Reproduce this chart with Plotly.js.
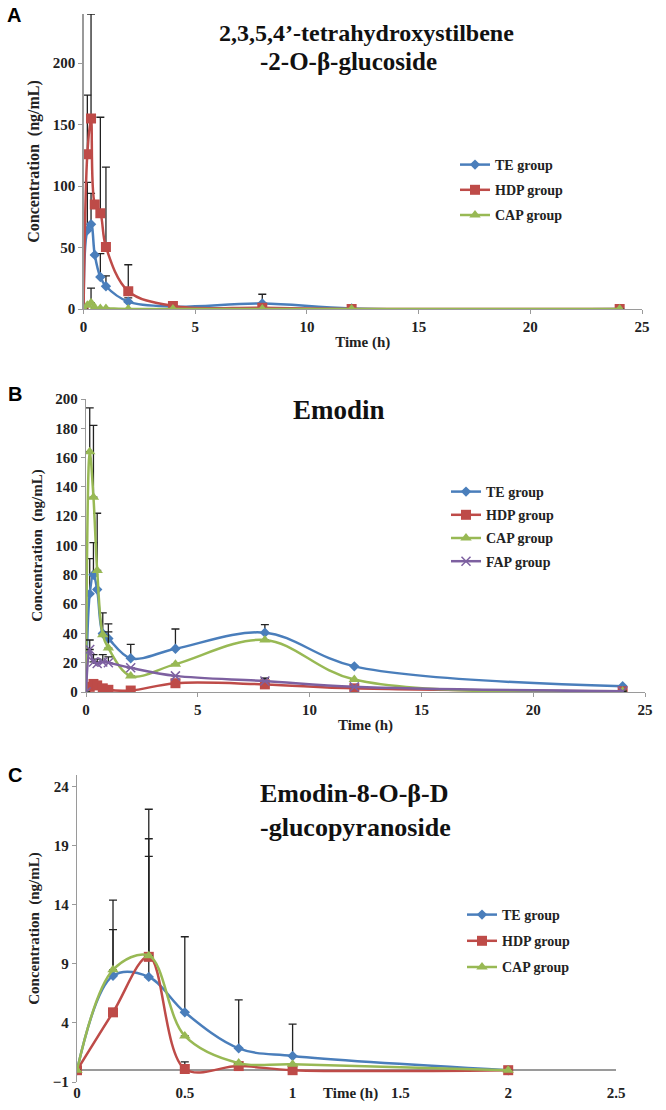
<!DOCTYPE html>
<html>
<head>
<meta charset="utf-8">
<script src="https://cdn.plot.ly/plotly-3.0.1.min.js"></script>
<style>html,body{margin:0;padding:0;background:#fff;}#chart{width:666px;height:1110px;}</style>
</head>
<body>
<div id="chart"></div>
<script>
// ---------- data ----------
var timeAB = [0, 0.167, 0.333, 0.5, 0.75, 1, 2, 4, 8, 12, 24];
var timeC  = [0, 0.167, 0.333, 0.5, 0.75, 1, 2];
var groupNames = ["TE group", "HDP group", "CAP group", "FAP group"];

// Panel A: 2,3,5,4'-tetrahydroxystilbene-2-O-β-glucoside
var A_TE      = [0, 64, 69, 44, 26, 18.5, 6, 2, 4.5, 0.5, 0];
var A_TE_err  = [0, 39, 25, 0, 19, 8.5, 3, 1, 7.5, 0, 0];
var A_HDP     = [0, 126, 155, 85, 78, 50.5, 14.5, 2.5, 1, 0, 0];
var A_HDP_err = [0, 48, 85, 0, 78, 65, 21.5, 0, 0, 0, 0];
var A_CAP     = [0, 3, 5, 1, 0.5, 0.5, 0, 0, 0, 0, 0];
var A_CAP_err = [0, 0, 12, 0, 0, 0, 0, 0, 0, 0, 0];

// Panel B: Emodin
var B_TE      = [0, 67, 80, 70, 40, 36.5, 23, 29.5, 40.5, 17.5, 4];
var B_TE_err  = [0, 24, 22, 0, 14, 10, 9.5, 13.5, 5.5, 0, 0];
var B_HDP     = [0, 3.5, 5.5, 4.5, 2.5, 1.5, 1, 6, 5.2, 2.5, 0.5];
var B_HDP_err = [0, 0, 0, 0, 0, 0, 0, 0, 4, 0, 0];
var B_CAP     = [0, 164, 133, 83, 39, 30, 11, 19, 35.5, 8.5, 0.5];
var B_CAP_err = [0, 30, 49, 39, 0, 11, 0, 0, 0, 0, 0];
var B_FAP     = [0, 29, 20.5, 19.5, 20.5, 20, 16.5, 11, 7.5, 3.5, 0.5];
var B_FAP_err = [0, 6.5, 5, 3, 5, 4, 0, 0, 2, 0, 0];

// Panel C: Emodin-8-O-β-D-glucopyranoside
var C_TE      = [0, 8.0, 7.9, 4.9, 1.85, 1.2, 0];
var C_TE_err  = [0, 6.4, 10.2, 6.4, 4.1, 2.7, 0];
var C_HDP     = [0, 4.9, 9.6, 0.1, 0.35, 0, 0];
var C_HDP_err = [0, 0, 12.5, 0.6, 0, 0, 0];
var C_CAP     = [0, 8.5, 9.7, 2.9, 0.6, 0.5, 0];
var C_CAP_err = [0, 3.4, 9.9, 0, 0, 0, 0];

// ---------- styles ----------
var colors  = ["#4A7EBB", "#BE4B48", "#98B954", "#7D60A0"];
var symbols = ["diamond", "square", "triangle-up", "x-thin-open"];
var msizes  = [8, 10, 10, 9];
var serif = "Liberation Serif, Times New Roman, serif";

function trace(x, y, err, gi, xa, ya, leg) {
  var zeros = err.map(function(){return 0;});
  return {
    x: x, y: y, type: "scatter", mode: "lines+markers",
    name: groupNames[gi], xaxis: xa, yaxis: ya, legend: leg,
    legendgroup: leg + gi,
    line: {color: colors[gi], width: 2.5, shape: "spline", smoothing: 1},
    marker: {color: colors[gi], symbol: symbols[gi], size: msizes[gi],
             line: {color: colors[gi], width: gi === 3 ? 1.5 : 0}},
    error_y: {type: "data", symmetric: false, array: err, arrayminus: zeros,
              color: "#222", thickness: 1.3, width: 4, visible: true}
  };
}

var data = [
  trace(timeAB, A_TE,  A_TE_err,  0, "x",  "y",  "legend"),
  trace(timeAB, A_HDP, A_HDP_err, 1, "x",  "y",  "legend"),
  trace(timeAB, A_CAP, A_CAP_err, 2, "x",  "y",  "legend"),
  trace(timeAB, B_TE,  B_TE_err,  0, "x2", "y2", "legend2"),
  trace(timeAB, B_HDP, B_HDP_err, 1, "x2", "y2", "legend2"),
  trace(timeAB, B_CAP, B_CAP_err, 2, "x2", "y2", "legend2"),
  trace(timeAB, B_FAP, B_FAP_err, 3, "x2", "y2", "legend2"),
  trace(timeC,  C_TE,  C_TE_err,  0, "x3", "y3", "legend3"),
  trace(timeC,  C_HDP, C_HDP_err, 1, "x3", "y3", "legend3"),
  trace(timeC,  C_CAP, C_CAP_err, 2, "x3", "y3", "legend3")
];

var W = 666, H = 1110;
function px(x){ return x / W; }
function py(y){ return 1 - y / H; }

var tickFont = {family: serif, size: 15, weight: "bold", color: "#222"};
var titleFont = {family: serif, size: 15, weight: "bold", color: "#222"};
function axis(o) {
  var base = {showgrid: false, zeroline: false, showline: true, linecolor: "#9a9a9a",
              linewidth: 1.3, ticks: "outside", ticklen: 4, tickcolor: "#9a9a9a",
              tickfont: tickFont, fixedrange: true};
  for (var k in o) base[k] = o[k];
  return base;
}

var legendBase = function(x, y, gap) {
  return {x: x, y: y, xanchor: "left", yanchor: "top", bgcolor: "rgba(0,0,0,0)",
          font: {family: serif, size: 14, weight: "bold", color: "#222"},
          tracegroupgap: gap, itemwidth: 30};
};

var layout = {
  width: W, height: H, margin: {l: 0, r: 0, t: 0, b: 0},
  paper_bgcolor: "#fff", plot_bgcolor: "#fff",
  showlegend: true,
  // Panel A
  xaxis:  axis({domain: [px(83.6), px(642)], range: [0, 25], dtick: 5, anchor: "y",
                title: {text: "Time (h)", font: titleFont, standoff: 2}}),
  yaxis:  axis({domain: [py(309), py(14)], range: [0, 240], tickvals: [0, 50, 100, 150, 200], anchor: "x",
                title: {text: "Concentration  (ng/mL)", font: {family: serif, size: 16, weight: "bold", color: "#222"}, standoff: 9}}),
  // Panel B
  xaxis2: axis({domain: [px(86), px(645)], range: [0, 25], dtick: 5, anchor: "y2",
                title: {text: "Time (h)", font: titleFont, standoff: 2}}),
  yaxis2: axis({domain: [py(692), py(399)], range: [0, 200], dtick: 20, anchor: "x2",
                title: {text: "Concentration  (ng/mL)", font: titleFont, standoff: 9}}),
  // Panel C
  xaxis3: axis({domain: [px(77), px(616)], range: [0, 2.5], dtick: 0.5, anchor: "y3",
                showline: false, ticks: ""}),
  yaxis3: axis({domain: [py(1082), py(775)], range: [-1, 25], tick0: -1, dtick: 5, anchor: "x3",
                zeroline: true, zerolinecolor: "#9a9a9a", zerolinewidth: 1.5,
                title: {text: "Concentration  (ng/mL)", font: titleFont, standoff: 9}}),
  legend:  legendBase(px(455), py(149), 4),
  legend2: legendBase(px(446), py(476), 2),
  legend3: legendBase(px(462), py(899), 5),
  annotations: [
    {text: "A", x: px(5), y: py(15), xref: "paper", yref: "paper", xanchor: "left", yanchor: "middle", showarrow: false,
     font: {family: "Liberation Sans, Arial, sans-serif", size: 20, weight: "bold", color: "#000"}},
    {text: "B", x: px(6), y: py(394), xref: "paper", yref: "paper", xanchor: "left", yanchor: "middle", showarrow: false,
     font: {family: "Liberation Sans, Arial, sans-serif", size: 20, weight: "bold", color: "#000"}},
    {text: "C", x: px(6), y: py(775), xref: "paper", yref: "paper", xanchor: "left", yanchor: "middle", showarrow: false,
     font: {family: "Liberation Sans, Arial, sans-serif", size: 20, weight: "bold", color: "#000"}},
    {text: "2,3,5,4’-tetrahydroxystilbene", x: px(366), y: py(33), xref: "paper", yref: "paper", xanchor: "center", yanchor: "middle", showarrow: false,
     font: {family: serif, size: 24, weight: "bold", color: "#111"}},
    {text: "-2-O-β-glucoside", x: px(348), y: py(62), xref: "paper", yref: "paper", xanchor: "center", yanchor: "middle", showarrow: false,
     font: {family: serif, size: 25, weight: "bold", color: "#111"}},
    {text: "Emodin", x: px(339), y: py(410), xref: "paper", yref: "paper", xanchor: "center", yanchor: "middle", showarrow: false,
     font: {family: serif, size: 27, weight: "bold", color: "#111"}},
    {text: "Emodin-8-O-β-D", x: px(258), y: py(793), xref: "paper", yref: "paper", xanchor: "left", yanchor: "middle", showarrow: false,
     font: {family: serif, size: 26, weight: "bold", color: "#111"}},
    {text: "-glucopyranoside", x: px(258), y: py(827), xref: "paper", yref: "paper", xanchor: "left", yanchor: "middle", showarrow: false,
     font: {family: serif, size: 26, weight: "bold", color: "#111"}},
    {text: "Time (h)", x: px(350), y: py(1093), xref: "paper", yref: "paper", xanchor: "center", yanchor: "middle", showarrow: false,
     font: titleFont}
  ]
};

Plotly.newPlot("chart", data, layout, {staticPlot: true, displayModeBar: false});
</script>
</body>
</html>
